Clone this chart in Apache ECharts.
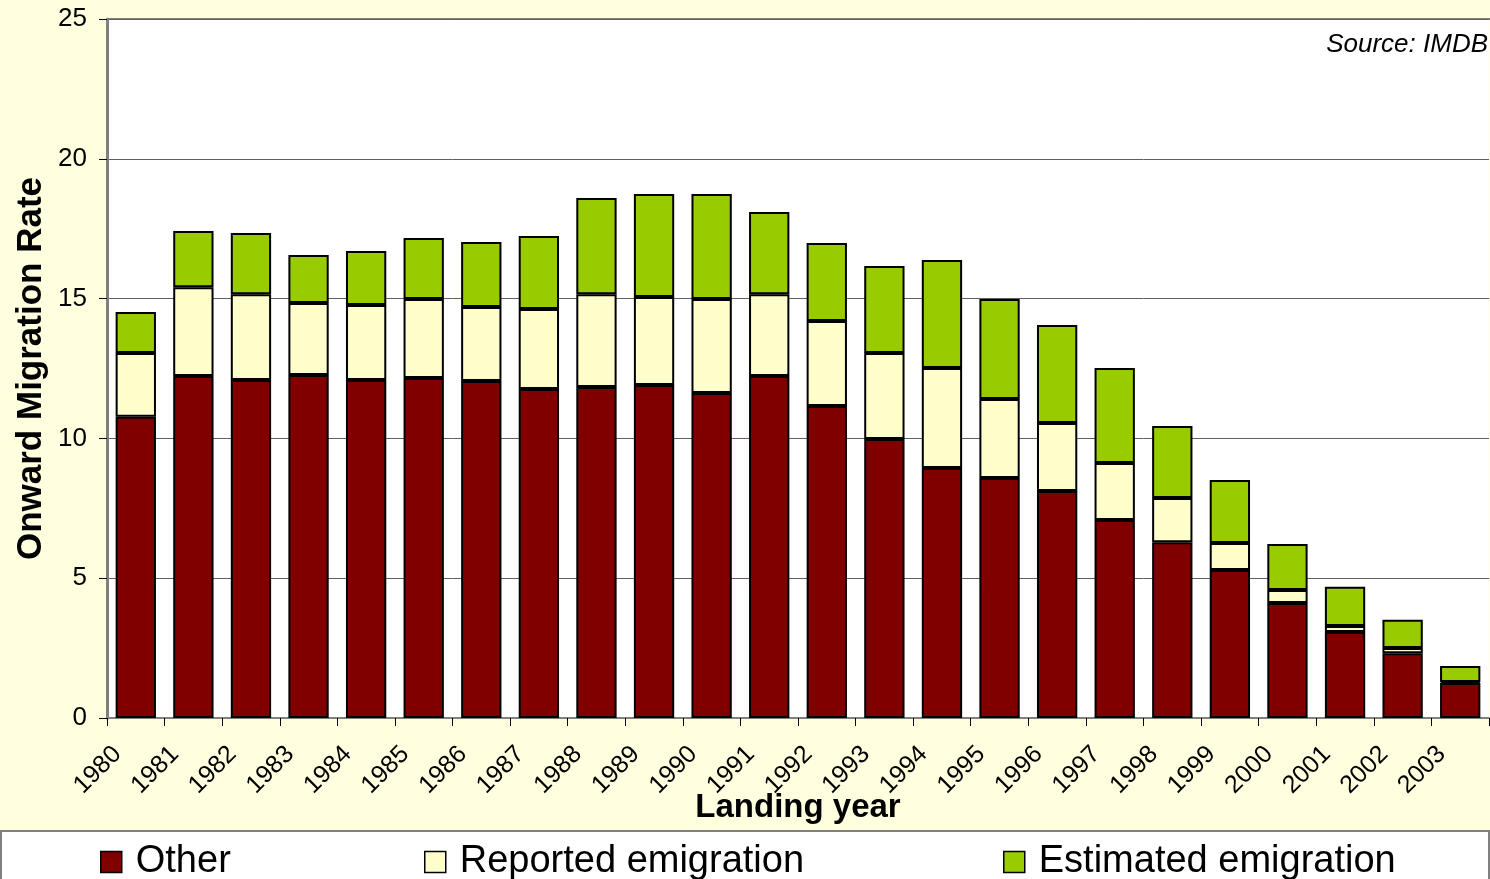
<!DOCTYPE html>
<html>
<head>
<meta charset="utf-8">
<script src="https://cdn.jsdelivr.net/npm/echarts@6/dist/echarts.min.js"></script>
<style>
  html, body { margin: 0; padding: 0; background: #FFFFE0; }
  #main { width: 1490px; height: 879px; }
</style>
</head>
<body>
<div id="main"></div>
<script>
const years = ['1980','1981','1982','1983','1984','1985','1986','1987','1988','1989','1990','1991',
  '1992','1993','1994','1995','1996','1997','1998','1999','2000','2001','2002','2003'];
const other = [10.77, 12.23, 12.09, 12.27, 12.09, 12.16, 12.05, 11.77, 11.84, 11.91, 11.62, 12.23,
  11.16, 9.98, 8.94, 8.58, 8.12, 7.08, 6.29, 5.29, 4.11, 3.08, 2.32, 1.25];
const reported = [2.28, 3.18, 3.07, 2.57, 2.68, 2.83, 2.65, 2.86, 3.32, 3.15, 3.37, 2.93,
  3.04, 3.07, 3.58, 2.83, 2.43, 2.04, 1.58, 0.97, 0.47, 0.21, 0.18, 0.04];
const estimated = [1.47, 2.01, 2.19, 1.72, 1.93, 2.18, 2.32, 2.61, 3.44, 3.68, 3.75, 2.94,
  2.79, 3.12, 3.86, 3.58, 3.51, 3.40, 2.57, 2.25, 1.64, 1.40, 1.01, 0.57];

const font = '"Liberation Sans", Arial, sans-serif';
const chart = echarts.init(document.getElementById('main'));

const barStyle = (color) => ({ color: color, borderColor: '#000', borderWidth: 2 });
const mkLegend = (name, left) => ({
  data: [{ name: name, icon: 'rect' }], left: left, top: 843, padding: 0, itemWidth: 21, itemHeight: 21,
  textStyle: { fontFamily: font, fontSize: 38, color: '#000', padding: [0, 0, 0, 9] },
  itemStyle: { borderColor: '#000', borderWidth: 1.5 }, selectedMode: false
});

chart.setOption({
  backgroundColor: '#FFFFE0',
  animation: false,
  grid: {
    left: 107, right: 1, top: 19, bottom: 161,
    show: true, backgroundColor: '#fff', borderWidth: 0
  },
  graphic: [
    { type: 'rect', shape: { x: 1, y: 831, width: 1488, height: 60 },
      style: { fill: '#fff', stroke: '#808080', lineWidth: 2 }, z: -1 },
    { type: 'line', shape: { x1: 107, y1: 19, x2: 1490, y2: 19 },
      style: { stroke: '#808080', lineWidth: 2 } },
    { type: 'text', right: 2, top: 32,
      style: { text: 'Source: IMDB', font: 'italic 26px "Liberation Sans", Arial, sans-serif', fill: '#000' } }
  ],
  legend: [
    mkLegend('Other', 100),
    mkLegend('Reported emigration', 424),
    mkLegend('Estimated emigration', 1003)
  ],
  xAxis: {
    type: 'category',
    data: years,
    name: 'Landing year',
    nameLocation: 'middle',
    nameGap: 73,
    nameMoveOverlap: false,
    nameTextStyle: { fontFamily: font, fontSize: 33, fontWeight: 'bold', color: '#000' },
    axisLine: { lineStyle: { color: '#808080', width: 2 } },
    axisTick: { show: true, length: 8, lineStyle: { color: '#000' } },
    axisLabel: { rotate: 45, fontFamily: font, fontSize: 25, color: '#000', margin: 14,
      padding: [0, 26, 0, 0], interval: 0 }
  },
  yAxis: {
    type: 'value',
    min: 0, max: 25, interval: 5,
    name: 'Onward Migration Rate',
    nameLocation: 'middle',
    nameGap: 58,
    nameMoveOverlap: false,
    nameTextStyle: { fontFamily: font, fontSize: 35, fontWeight: 'bold', color: '#000' },
    axisLine: { show: true, lineStyle: { color: '#808080', width: 3 } },
    axisTick: { show: true, length: 8, lineStyle: { color: '#000' } },
    axisLabel: { fontFamily: font, fontSize: 26, color: '#000', margin: 20 },
    splitLine: { lineStyle: { color: '#606060', width: 1 } }
  },
  series: [
    { name: 'Other', type: 'bar', stack: 'total', data: other, barCategoryGap: '30%', itemStyle: barStyle('#800000') },
    { name: 'Reported emigration', type: 'bar', stack: 'total', data: reported, itemStyle: barStyle('#FFFFCC') },
    { name: 'Estimated emigration', type: 'bar', stack: 'total', data: estimated, itemStyle: barStyle('#99CC00') }
  ]
});
</script>
</body>
</html>
